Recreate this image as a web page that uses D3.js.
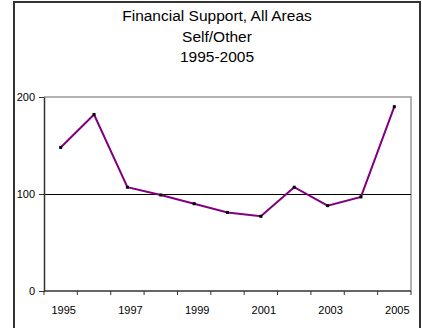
<!DOCTYPE html>
<html>
<head>
<meta charset="utf-8">
<script src="https://cdn.jsdelivr.net/npm/d3@7"></script>
<style>
  html, body { margin: 0; padding: 0; background: #fff; }
  svg { display: block; }
  text { font-family: "Liberation Sans", Arial, sans-serif; fill: #000; }
</style>
</head>
<body>
<svg id="chart" width="422" height="328"></svg>
<script>
const titleLines = ["Financial Support, All Areas", "Self/Other", "1995-2005"];
const years = ["1995","1996","1997","1998","1999","2000","2001","2002","2003","2004","2005"];
const values = [148, 182, 107, 99, 90, 81, 77, 107, 88, 97, 190];
const yTicks = [0, 100, 200];
const xLabelYears = ["1995","1997","1999","2001","2003","2005"];

const svg = d3.select("#chart");
const plot = { left: 44, right: 411, top: 97, bottom: 291 };

// outer frame
svg.append("rect")
  .attr("x", 14).attr("y", 2)
  .attr("width", 406).attr("height", 340)
  .attr("fill", "#fff")
  .attr("stroke", "#333").attr("stroke-width", 2);

// title
svg.append("g").selectAll("text").data(titleLines).join("text")
  .attr("x", 217)
  .attr("y", (d, i) => 21 + i * 20.5)
  .attr("text-anchor", "middle")
  .attr("font-size", 15.5)
  .text(d => d);

const x = d3.scaleBand().domain(years).range([plot.left, plot.right]);
const y = d3.scaleLinear().domain([0, 200]).range([plot.bottom, plot.top]);

// plot area border (top & right gray)
svg.append("path")
  .attr("d", `M${plot.left},${plot.top}H${plot.right}V${plot.bottom}`)
  .attr("fill", "none")
  .attr("stroke", "#999").attr("stroke-width", 1.5);

// gridline at 100
svg.append("g").selectAll("line").data(yTicks.filter(t => t > 0 && t < 200)).join("line")
  .attr("x1", plot.left).attr("x2", plot.right)
  .attr("y1", d => y(d) + 0.5).attr("y2", d => y(d) + 0.5)
  .attr("stroke", "#000").attr("stroke-width", 1)
  .attr("shape-rendering", "crispEdges");

// y axis
const yAxis = svg.append("g")
  .attr("transform", `translate(${plot.left},0)`)
  .call(d3.axisLeft(y).tickValues(yTicks).tickSize(5).tickPadding(4).tickSizeOuter(0));
yAxis.select(".domain").attr("stroke", "#333").attr("stroke-width", 1.5);
yAxis.selectAll(".tick line").attr("stroke", "#333");
yAxis.selectAll("text").attr("font-size", 11).attr("font-family", "Liberation Sans, Arial, sans-serif").attr("fill", "#000");

// x axis: ticks at category boundaries
const boundaries = years.map(d => x(d)).concat([x(years[years.length - 1]) + x.bandwidth()]);
const xg = svg.append("g");
xg.append("line")
  .attr("x1", plot.left).attr("x2", plot.right)
  .attr("y1", plot.bottom).attr("y2", plot.bottom)
  .attr("stroke", "#333").attr("stroke-width", 1.5);
xg.selectAll("line.tk").data(boundaries).join("line")
  .attr("class", "tk")
  .attr("x1", d => d).attr("x2", d => d)
  .attr("y1", plot.bottom).attr("y2", plot.bottom + 4)
  .attr("stroke", "#333");
xg.selectAll("text").data(xLabelYears).join("text")
  .attr("x", d => x(d) + x.bandwidth() / 2 + 3)
  .attr("y", plot.bottom + 22.5)
  .attr("text-anchor", "middle")
  .attr("font-size", 11)
  .text(d => d);

// line
const line = d3.line()
  .x((d, i) => x(years[i]) + x.bandwidth() / 2)
  .y(d => y(d));
svg.append("path")
  .datum(values)
  .attr("d", line)
  .attr("fill", "none")
  .attr("stroke", "#800080")
  .attr("stroke-width", 2);

// markers
svg.append("g").selectAll("rect").data(values).join("rect")
  .attr("x", (d, i) => x(years[i]) + x.bandwidth() / 2 - 1.5)
  .attr("y", d => y(d) - 1.5)
  .attr("width", 3).attr("height", 3)
  .attr("fill", "#000");
</script>
</body>
</html>
